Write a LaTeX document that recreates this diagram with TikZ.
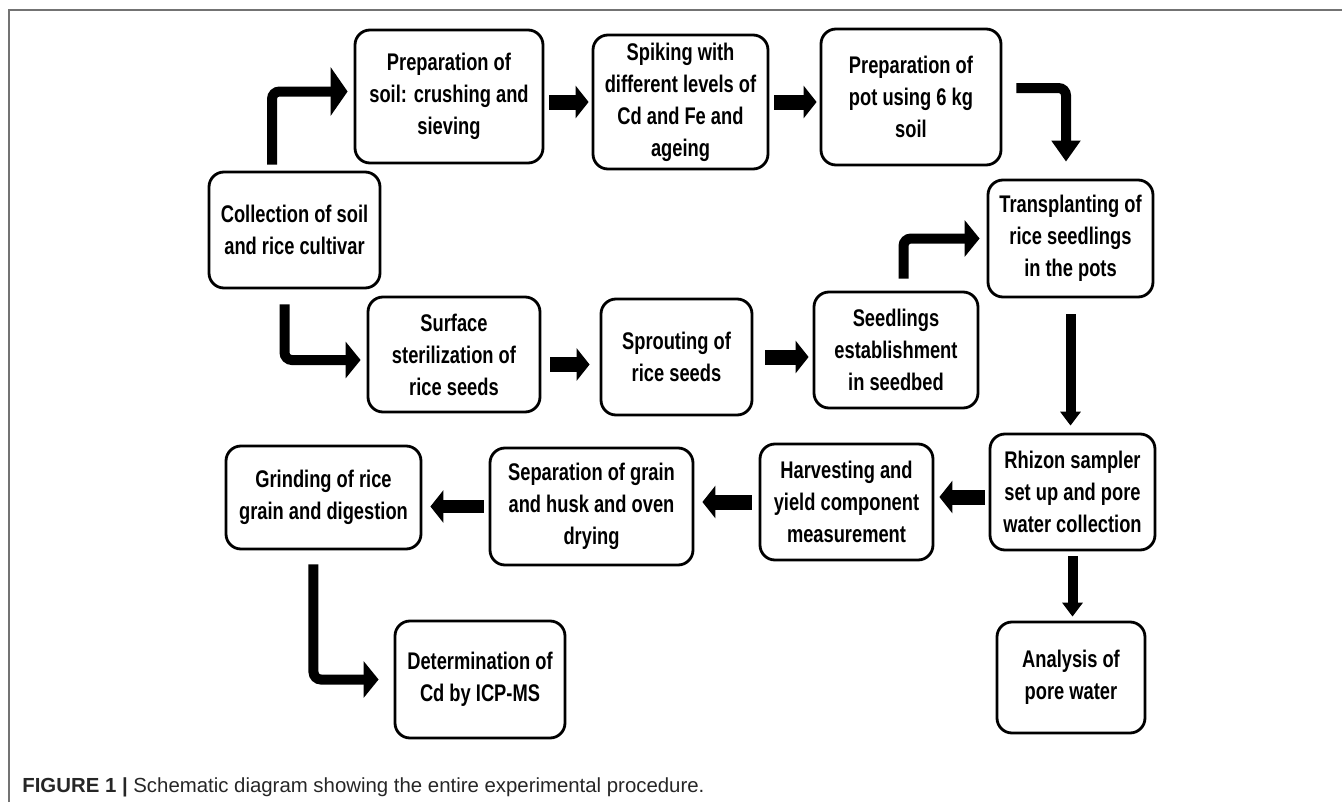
\documentclass[tikz,border=0pt]{standalone}
\usepackage{fontspec}
\setmainfont{Liberation Sans}
\newfontfamily\stepfont{Liberation Sans}[FakeStretch=0.76]
\usepackage{tikz}
\usetikzlibrary{shapes.geometric, arrows.meta}
\tikzstyle{stepbox} = [rectangle, 
rounded corners=0.3cm, 
minimum width=3.4cm, 
minimum height=2.32cm,
inner sep=0pt,
text centered, 
align=center,
draw=black, 
line width=1.6pt,
font=\stepfont\bfseries\fontsize{13.7}{18.2}\selectfont]
\tikzstyle{arrow} = [line width=0.3cm, -{Triangle[width=0.64cm, length=0.26cm]}]
\tikzstyle{varrow} = [line width=0.2cm, -{Triangle[width=0.4cm, length=0.28cm]}]
\tikzstyle{elbow} = [line width=0.2cm, rounded corners=0.15cm, -{Triangle[width=0.72cm, length=0.3cm]}]

\begin{document}
\begin{tikzpicture}[node distance=2.6cm]
\useasboundingbox (-5.89,4.6) rectangle (20.95,-11.44);
\draw [black!55, line width=0.6pt] (-5.71,-11.44) -- (-5.71,4.4) -- (20.95,4.4);
\node (coll) [stepbox, minimum width=3.42cm]{Collection of soil\\and rice cultivar};
\node (prep) [stepbox, above of=coll, xshift=3.09cm, yshift=0.07cm, minimum width=3.76cm, minimum height=2.66cm]{Preparation of\\soil: crushing and\\sieving};
\node (spike) [stepbox, right of=prep, xshift=2.03cm, yshift=-0.11cm, minimum width=3.5cm, minimum height=2.68cm]{Spiking with\\different levels of\\Cd and Fe and\\ageing};
\node (pot) [stepbox, right of=spike, xshift=2.01cm, yshift=0.1cm, minimum width=3.6cm, minimum height=2.72cm]{Preparation of\\pot using 6 kg\\soil};
\node (trans) [stepbox, below of=pot, xshift=3.19cm, yshift=-0.23cm, minimum width=3.3cm, minimum height=2.34cm]{Transplanting of\\rice seedlings\\in the pots};
\node (surf) [stepbox, below of=coll, xshift=3.19cm, yshift=0.11cm, minimum width=3.44cm, minimum height=2.3cm]{Surface\\sterilization of\\rice seeds};
\node (sprout) [stepbox, right of=surf, xshift=1.85cm, yshift=-0.05cm, minimum width=3.02cm]{Sprouting of\\rice seeds};
\node (seed) [stepbox, right of=sprout, xshift=1.79cm, yshift=0.14cm, minimum width=3.28cm]{Seedlings\\establishment\\in seedbed};
\node (rhiz) [stepbox, below of=trans, xshift=0.04cm, yshift=-2.47cm, minimum width=3.3cm]{Rhizon sampler\\set up and pore\\water collection};
\node (harv) [stepbox, left of=rhiz, xshift=-1.92cm, yshift=-0.2cm, minimum width=3.46cm]{Harvesting and\\yield component\\measurement};
\node (sep) [stepbox, left of=harv, xshift=-2.5cm, yshift=-0.09cm, minimum width=4.06cm, minimum height=2.34cm]{Separation of grain\\and husk and oven\\drying};
\node (grind) [stepbox, left of=sep, xshift=-2.76cm, yshift=0.18cm, minimum width=3.9cm, minimum height=2.06cm]{Grinding of rice\\grain and digestion};
\node (det) [stepbox, below of=grind, xshift=3.13cm, yshift=-1.04cm, minimum width=3.4cm, minimum height=2.34cm]{Determination of\\Cd by ICP-MS};
\node (anal) [stepbox, below of=rhiz, xshift=-0.03cm, yshift=-1.11cm, minimum width=2.96cm, minimum height=2.22cm]{Analysis of\\pore water};
\node (caption) [anchor=base west, inner sep=0pt, text=black!85, font=\fontsize{11.6}{13}\selectfont] at (-5.45,-11.24) {\textbf{FIGURE 1 |} Schematic diagram showing the entire experimental procedure.};
\draw [elbow, shorten <=0.12cm, shorten >=0.12cm, -{Triangle[width=0.96cm, length=0.34cm]}] ([xshift=-0.45cm]coll.north) |- ([yshift=0.1cm]prep.west);
\draw [elbow, shorten <=0.3cm, shorten >=0.12cm] ([xshift=-0.2cm]coll.south) |- ([yshift=-0.11cm]surf.west);
\draw [arrow, shorten <=0.1cm, shorten >=0.06cm] (prep.east |- spike) -- (spike.west);
\draw [arrow, shorten <=0.1cm, shorten >=0.06cm] (spike.east) -- (spike.east -| pot.west);
\draw [elbow, shorten <=0.28cm, shorten >=0.34cm, -{Triangle[width=0.56cm, length=0.42cm]}] ([yshift=0.18cm]pot.east) -| ([xshift=-0.09cm]trans.north);
\draw [arrow, shorten <=0.18cm, shorten >=0.2cm] ([yshift=-0.2cm]surf.east) -- ([yshift=-0.2cm]surf.east -| sprout.west);
\draw [arrow, shorten <=0.24cm, shorten >=0.08cm] (sprout.east) -- (sprout.east -| seed.west);
\draw [elbow, shorten <=0.24cm, shorten >=0.14cm] ([xshift=0.15cm]seed.north) |- (trans.west);
\draw [varrow, shorten <=0.32cm, shorten >=0.14cm] (trans.south) -- (trans.south |- rhiz.north);
\draw [varrow, shorten <=0.1cm, shorten >=0.08cm] (rhiz.south) -- (rhiz.south |- anal.north);
\draw [arrow, shorten <=0.08cm, shorten >=0.1cm] ([yshift=-0.1cm]rhiz.west) -- ([yshift=-0.1cm]rhiz.west -| harv.east);
\draw [arrow, shorten <=0.14cm, shorten >=0.16cm] (harv.west) -- (harv.west -| sep.east);
\draw [arrow, shorten <=0.1cm, shorten >=0.16cm, line width=0.26cm] (sep.west) -- (sep.west -| grind.east);
\draw [elbow, shorten <=0.28cm, shorten >=0.3cm] ([xshift=-0.2cm]grind.south) |- (det.west);
\end{tikzpicture}
\end{document}
